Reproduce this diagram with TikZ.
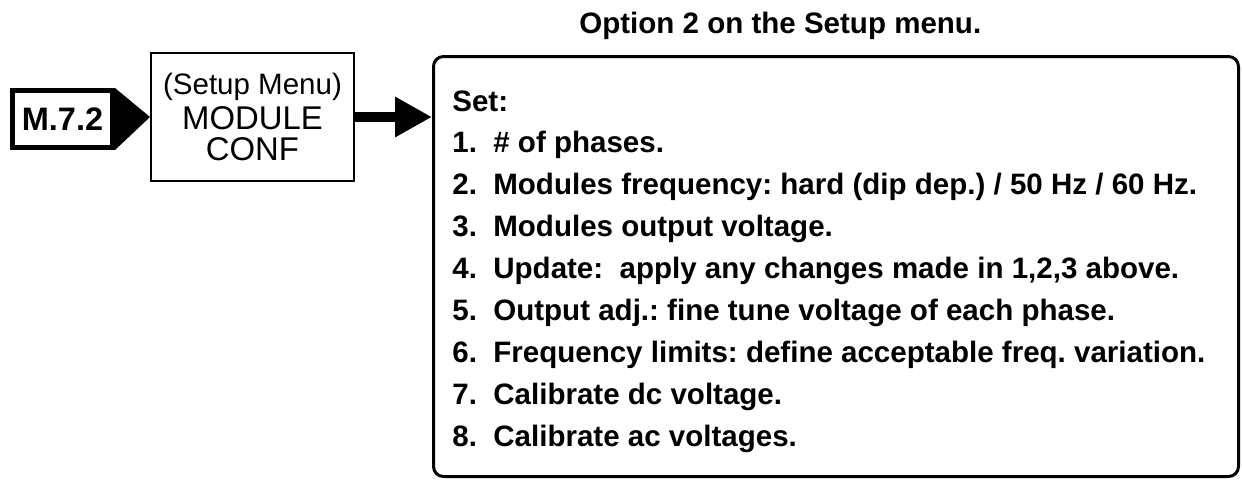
\documentclass[tikz,border=0pt]{standalone}
\usepackage{fontspec}
\setmainfont{Liberation Sans}
\usetikzlibrary{arrows.meta, positioning}
\frenchspacing

\begin{document}
\begin{tikzpicture}[
        tagbox/.style={rectangle, draw, line width=0.1cm, minimum width=2.0cm,
                   minimum height=1.14cm, inner sep=0pt,
                   font=\fontsize{18.5}{20}\selectfont\bfseries},
        setupbox/.style={rectangle, draw, line width=0.04cm, minimum width=4.06cm,
                   minimum height=2.56cm, inner sep=0pt, align=center,
                   font=\fontsize{18.7}{17.6}\selectfont},
        menubox/.style={rectangle, draw, line width=0.06cm, rounded corners=0.2cm,
                   minimum width=16.1cm, minimum height=8.4cm, inner sep=0pt},
        item/.style={anchor=base west, inner sep=0pt,
                   font=\fontsize{16.8}{17}\selectfont\bfseries}]
      \useasboundingbox (0,0) rectangle (24.84,-9.6);
      \node[tagbox] (tag) at (1.25,-2.38) {M.7.2};
      \node[setupbox] (setup) at (5.05,-2.34)
        {{\fontsize{16.8}{17}\selectfont (Setup Menu)}\\[2pt]MODULE\\CONF};
      \node[menubox] (menu) at (16.72,-5.33) {};
      \fill (tag.north east) -- (setup.west) -- (tag.south east) -- cycle;
      \draw[line width=0.2cm, -{Triangle[length=0.74cm, width=0.76cm]}]
        (setup.east) -- (setup.east -| menu.west);
      \node[item] (title) at (11.58,-0.66) {Option 2 on the Setup menu.};
      \node[item] (set) at (9.04,-2.23) {Set:};
      \node[item] (i1) at (9.04,-3.05) {1.\ \ \# of phases.};
      \node[item] (i2) at (9.04,-3.89) {2.\ \ Modules frequency: hard (dip dep.) / 50 Hz / 60 Hz.};
      \node[item] (i3) at (9.04,-4.73) {3.\ \ Modules output voltage.};
      \node[item] (i4) at (9.04,-5.57) {4.\ \ Update:\ \ apply any changes made in 1,2,3 above.};
      \node[item] (i5) at (9.04,-6.41) {5.\ \ Output adj.: fine tune voltage of each phase.};
      \node[item] (i6) at (9.04,-7.25) {6.\ \ Frequency limits: define acceptable freq. variation.};
      \node[item] (i7) at (9.04,-8.09) {7.\ \ Calibrate dc voltage.};
      \node[item] (i8) at (9.04,-8.93) {8.\ \ Calibrate ac voltages.};
    \end{tikzpicture}
\end{document}
